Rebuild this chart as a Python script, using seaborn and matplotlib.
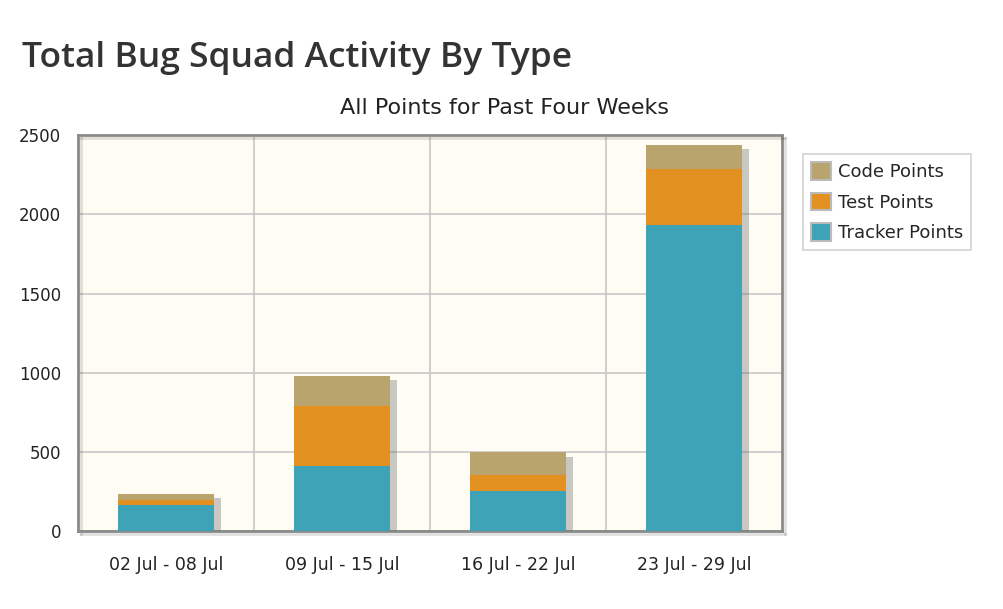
import matplotlib
matplotlib.use("Agg")
import matplotlib.pyplot as plt
import matplotlib.patheffects as pe
from matplotlib.patches import Patch
import seaborn as sns
import pandas as pd

# data
weeks = ["02 Jul - 08 Jul", "09 Jul - 15 Jul", "16 Jul - 22 Jul", "23 Jul - 29 Jul"]
tracker_points = [162, 413, 251, 1930]
test_points = [36, 375, 105, 358]
code_points = [38, 192, 141, 150]

series = ["Code Points", "Test Points", "Tracker Points"]
colors = {"Code Points": "#B8A46C", "Test Points": "#E29121", "Tracker Points": "#3FA3B7"}

df = pd.DataFrame({"week": weeks, "Tracker Points": tracker_points,
                   "Test Points": test_points, "Code Points": code_points})
# cumulative heights for stacking
df["tracker_top"] = df["Tracker Points"]
df["test_top"] = df["tracker_top"] + df["Test Points"]
df["code_top"] = df["test_top"] + df["Code Points"]

sns.set_style("white")
plt.rcParams["font.family"] = ["DejaVu Sans"]

fig = plt.figure(figsize=(10.04, 6.09), dpi=100)
ax = fig.add_axes([0.0777, 0.128, 0.701, 0.650])
ax.set_facecolor("#FFFCF3")

shadow = [pe.SimplePatchShadow(offset=(5, -3), shadow_rgbFace="#666666", alpha=0.35), pe.Normal()]

for col, name in [("code_top", "Code Points"), ("test_top", "Test Points"), ("tracker_top", "Tracker Points")]:
    sns.barplot(data=df, x="week", y=col, color=colors[name], width=0.545,
                saturation=1, ax=ax, zorder=3)

for i, bar in enumerate(ax.patches):
    bar.set_edgecolor("none")
    if i < len(weeks):
        bar.set_path_effects(shadow)

ax.set_xlim(-0.5, 3.5)
ax.set_ylim(0, 2500)
ax.set_yticks(range(0, 2501, 500))
ax.set_xticks([0.5, 1.5, 2.5], minor=True)
ax.grid(True, axis="y", color="#C8C8C8", linewidth=1.2, zorder=0)
ax.grid(True, axis="x", which="minor", color="#C8C8C8", linewidth=1.2, zorder=0)
ax.set_axisbelow(True)
ax.tick_params(axis="x", which="major", length=0, pad=18, labelsize=12.5, colors="#222222")
ax.tick_params(axis="x", which="minor", length=7, width=1.5, color="#AAAAAA", direction="out")
ax.tick_params(axis="y", length=6, width=1.2, color="#AAAAAA", pad=6, labelsize=12, colors="#222222")
ax.set_xlabel("")
ax.set_ylabel("")

for s in ax.spines.values():
    s.set_color("#8A8A8A")
    s.set_linewidth(2)
    s.set_visible(True)
    s.set_path_effects([pe.SimpleLineShadow(offset=(2, -2), alpha=0.12), pe.Normal()])

fig.text(0.022, 0.890, "Total Bug Squad Activity By Type", fontsize=25.5,
         fontweight="semibold", color="#333333", va="baseline", family="Open Sans")
fig.text(0.502, 1 - 108 / 609, "All Points for Past Four Weeks", fontsize=16,
         color="#222222", ha="center", va="center")

handles = [Patch(facecolor=colors[s], edgecolor="#BBBBBB", linewidth=1.5, label=s) for s in series]
leg = fig.legend(handles=handles, loc="upper left", bbox_to_anchor=(0.800, 0.747),
                 fontsize=13, frameon=True, fancybox=False, handlelength=1.1,
                 handleheight=1.1, handletextpad=0.35, labelspacing=0.65, borderpad=0.45,
                 borderaxespad=0)
leg.get_frame().set_edgecolor("#C8C8C8")
leg.get_frame().set_linewidth(1.2)

fig.savefig("out.png", dpi=100)
